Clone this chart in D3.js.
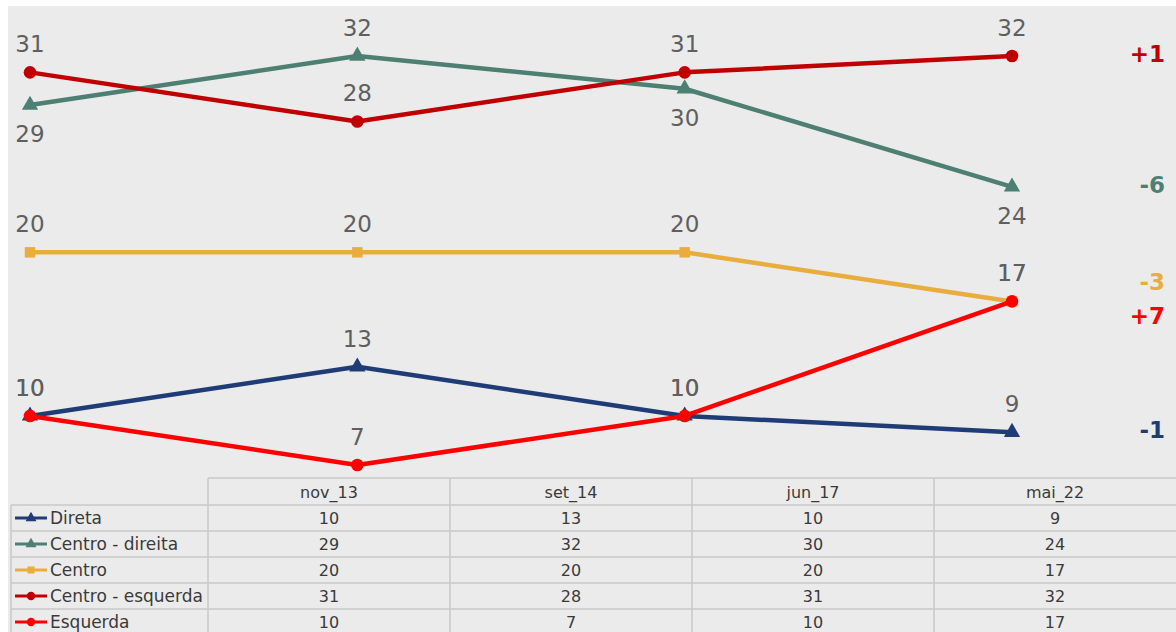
<!DOCTYPE html>
<html>
<head>
<meta charset="utf-8">
<script src="https://cdn.jsdelivr.net/npm/d3@7"></script>
<style>
    html, body { margin: 0; padding: 0; background: #ffffff; }
    svg { display: block; }
    text { font-family: "DejaVu Sans", sans-serif; }
</style>
</head>
<body>
<svg id="chart" width="1176" height="632"></svg>
<script>
// chart data
const categories = ['nov_13', 'set_14', 'jun_17', 'mai_22'];
const seriesNames = ['Direta', 'Centro - direita', 'Centro', 'Centro - esquerda', 'Esquerda'];
const direta = [10, 13, 10, 9];
const centroDireita = [29, 32, 30, 24];
const centro = [20, 20, 20, 17];
const centroEsquerda = [31, 28, 31, 32];
const esquerda = [10, 7, 10, 17];
const deltas = ['-1', '-6', '-3', '+1', '+7'];

const seriesValues = [direta, centroDireita, centro, centroEsquerda, esquerda];

// look of each series ('auto' labels go above only when the point is the top one)
const STYLES = [
    {color: '#1f3c76', marker: d3.symbolTriangle, size: 115, label: 'above'},
    {color: '#4d8072', marker: d3.symbolTriangle, size: 115, label: 'auto'},
    {color: '#e9ad3e', marker: d3.symbolSquare, size: 110, label: 'above'},
    {color: '#c00000', marker: d3.symbolCircle, size: 125, label: 'above'},
    {color: '#ff0000', marker: d3.symbolCircle, size: 125, label: 'above'}
];
const BG = '#ebebeb';
const GRID = '#c9c9c9';
const TEXT = '#3a3a3a';
const LABEL = '#5f5f5f';
const LINE_WIDTH = 4.5;
const LABEL_FONT = 'Roboto, "DejaVu Sans", sans-serif';

const series = seriesNames.map((name, i) => ({
    name,
    values: seriesValues[i],
    delta: deltas[i],
    ...STYLES[i]
}));

const svg = d3.select('#chart');

svg.append('rect')
    .attr('x', 8).attr('y', 6)
    .attr('width', 1168).attr('height', 626)
    .attr('fill', BG);

const x = d3.scalePoint().domain(categories).range([30, 1012]);
const y = d3.scaleLinear().domain([7, 32]).range([465, 56]);

const line = d3.line()
    .x((d, i) => x(categories[i]))
    .y(d => y(d));

const plot = svg.append('g').attr('class', 'plot');

series.forEach(s => {
    const g = plot.append('g').attr('class', 'serie');
    g.append('path')
        .datum(s.values)
        .attr('d', line)
        .attr('fill', 'none')
        .attr('stroke', s.color)
        .attr('stroke-width', LINE_WIDTH)
        .attr('stroke-linejoin', 'round');
    g.selectAll('path.marker')
        .data(s.values)
        .join('path')
        .attr('class', 'marker')
        .attr('d', d3.symbol().type(s.marker).size(s.size))
        .attr('transform', (d, i) => `translate(${x(categories[i])},${y(d)})`)
        .attr('fill', s.color);
});

const isAbove = (s, d, i) => {
    if (s.label !== 'auto') return s.label === 'above';
    return d >= d3.max(series, o => o.values[i]);
};

// data labels drawn after lines so they sit on top
series.forEach(s => {
    plot.append('g').selectAll('text')
        .data(s.values)
        .join('text')
        .attr('x', (d, i) => x(categories[i]))
        .attr('y', (d, i) => y(d) + (isAbove(s, d, i) ? -28 : 29))
        .attr('text-anchor', 'middle')
        .attr('dominant-baseline', 'central')
        .attr('font-family', LABEL_FONT)
        .attr('font-size', 23)
        .attr('fill', LABEL)
        .text(d => d);
});

// change labels at the right, nudged apart when they share a value
const last = categories.length - 1;
const deltaPos = series.map((s, i) => ({s, i, base: y(s.values[last])}));
deltaPos.forEach(p => {
    const same = deltaPos.filter(q => Math.abs(q.base - p.base) < 1);
    const k = same.indexOf(p);
    p.y = p.base + (k - (same.length - 1) / 2) * 34;
});
svg.append('g').selectAll('text')
    .data(deltaPos)
    .join('text')
    .attr('x', 1165)
    .attr('y', d => d.y - 2)
    .attr('text-anchor', 'end')
    .attr('dominant-baseline', 'central')
    .attr('font-family', LABEL_FONT)
    .attr('font-size', 23)
    .attr('font-weight', 'bold')
    .attr('fill', d => d.s.color)
    .text(d => d.s.delta);

// data table
const col = d3.scaleBand().domain(categories).range([208, 1176]);
const rowH = 26;
const headTop = 478;
const bodyTop = headTop + rowH + 1;
const table = svg.append('g').attr('class', 'table');

table.append('line')
    .attr('x1', 208).attr('x2', 1176)
    .attr('y1', headTop).attr('y2', headTop)
    .attr('stroke', GRID).attr('stroke-width', 1.5);
series.forEach((s, i) => {
    table.append('line')
        .attr('x1', 11).attr('x2', 1176)
        .attr('y1', bodyTop + i * rowH).attr('y2', bodyTop + i * rowH)
        .attr('stroke', GRID).attr('stroke-width', 1.5);
});
table.append('line')
    .attr('x1', 11).attr('x2', 11)
    .attr('y1', bodyTop).attr('y2', 640)
    .attr('stroke', GRID).attr('stroke-width', 1.5);
categories.forEach(c => {
    table.append('line')
        .attr('x1', col(c)).attr('x2', col(c))
        .attr('y1', headTop).attr('y2', 640)
        .attr('stroke', GRID).attr('stroke-width', 1.5);
});

table.selectAll('text.head')
    .data(categories)
    .join('text')
    .attr('class', 'head')
    .attr('x', d => col(d) + col.bandwidth() / 2)
    .attr('y', headTop + rowH / 2 + 1)
    .attr('text-anchor', 'middle')
    .attr('dominant-baseline', 'central')
    .attr('font-size', 16)
    .attr('fill', TEXT)
    .text(d => d);

series.forEach((s, i) => {
    const cy = bodyTop + i * rowH + rowH / 2;
    table.append('line')
        .attr('x1', 15).attr('x2', 47)
        .attr('y1', cy).attr('y2', cy)
        .attr('stroke', s.color).attr('stroke-width', 3);
    table.append('path')
        .attr('d', d3.symbol().type(s.marker).size(s.size * 0.45))
        .attr('transform', `translate(31,${cy})`)
        .attr('fill', s.color);
    table.append('text')
        .attr('x', 50)
        .attr('y', cy)
        .attr('dominant-baseline', 'central')
        .attr('font-size', 17)
        .attr('fill', TEXT)
        .text(s.name);
    table.selectAll(null)
        .data(s.values)
        .join('text')
        .attr('x', (d, j) => col(categories[j]) + col.bandwidth() / 2)
        .attr('y', cy)
        .attr('text-anchor', 'middle')
        .attr('dominant-baseline', 'central')
        .attr('font-size', 16)
        .attr('fill', TEXT)
        .text(d => d);
});
</script>
</body>
</html>
